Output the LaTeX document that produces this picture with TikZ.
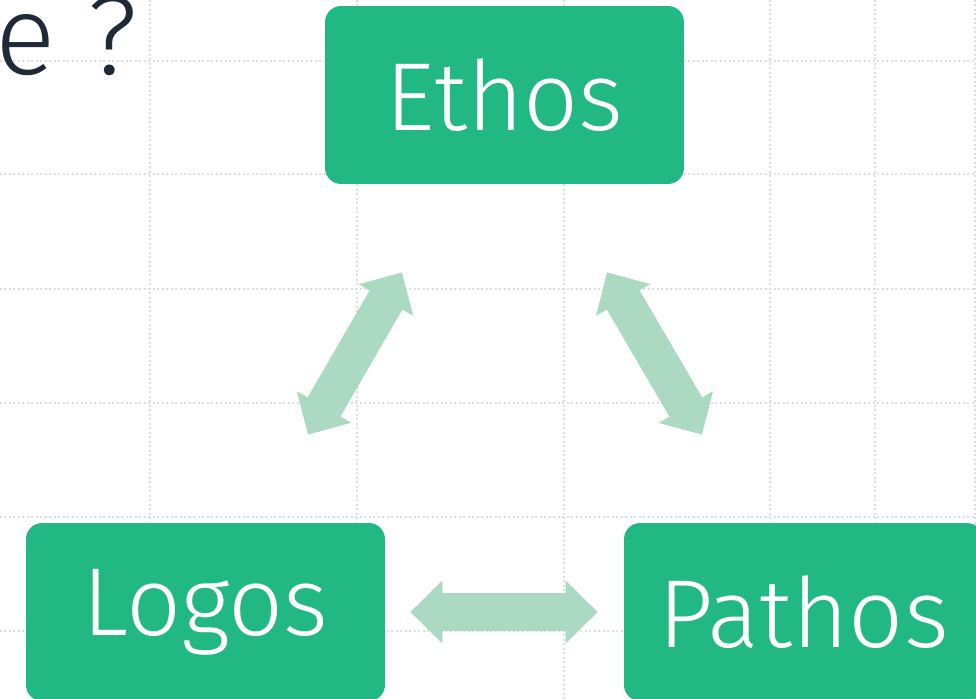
\documentclass[tikz,border=0pt]{standalone}
\usepackage{fontspec}
\setmainfont{Fira Sans}[UprightFont=* Light]
\usetikzlibrary{arrows.meta}
\definecolor{boxgreen}{RGB}{34,184,132}
\definecolor{arrowgreen}{RGB}{172,217,194}
\definecolor{titleink}{RGB}{31,41,55}
\definecolor{gridgray}{RGB}{222,222,222}
\begin{document}
\begin{tikzpicture}[x=0.02cm,y=-0.02cm,
    appeal/.style={fill=boxgreen,rounded corners=0.32cm,minimum width=7.18cm,
      minimum height=3.56cm,inner sep=0pt,text=white,font=\fontsize{55}{60}\selectfont},
    link/.style={draw=arrowgreen,line width=0.76cm,
      {Triangle[length=0.64cm,width=1.22cm]}-{Triangle[length=0.64cm,width=1.22cm]}},
    gridline/.style={draw=gridgray,line width=0.035cm,dash pattern=on 0.04cm off 0.05cm}]
    \def\W{976} \def\H{699}
    \useasboundingbox (0,0) rectangle (\W,\H);
    \clip (0,0) rectangle (\W,\H);
    %===========================================
    \foreach \gx in {150,357,564,770,875,975} \draw[gridline] (\gx,0) -- (\gx,\H);
    \foreach \gy in {61,174,289,403,517,631} \draw[gridline] (0,\gy) -- (\W,\gy);
    \node[anchor=base east,inner sep=0pt,text=titleink,font=\fontsize{64}{70}\selectfont] (title) at (138,75) {e ?};
    %===========================================
    \node[appeal] (ethos) at (504.5,95) {Ethos};
    \node[appeal] (logos) at (205.5,612) {Logos};
    \node[appeal] (pathos) at (803.5,612) {Pathos};
    \draw[link] ([shift={(102.5,-88)}]logos.north) -- ([shift={(-102.5,88)}]ethos.south);
    \draw[link] ([shift={(102.5,88)}]ethos.south) -- ([shift={(-101.5,-88)}]pathos.north);
    \draw[link] ([shift={(25,0)}]logos.east) -- ([shift={(-26,0)}]pathos.west);
\end{tikzpicture}
\end{document}
